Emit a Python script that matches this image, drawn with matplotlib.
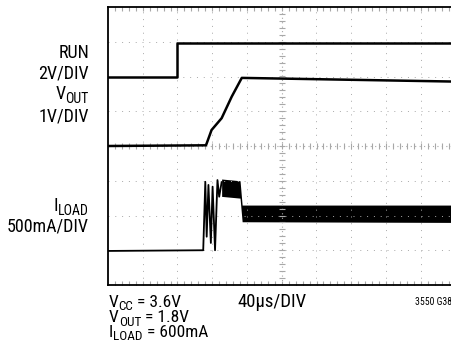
import matplotlib
matplotlib.use("Agg")
import matplotlib.pyplot as plt
import numpy as np

# ---- data (in scope divisions: x 0..10, y 0..8) ----
run_t = [0.0, 2.0, 2.0, 10.2]
run_v = [6.0, 6.0, 6.95, 6.95]

vout_t = [0.0, 2.82, 2.98, 3.27, 3.56, 3.85, 10.2]
vout_v = [4.0, 4.02, 4.46, 4.80, 5.42, 5.96, 5.85]

iload_t = [0.0, 2.74, 2.80, 2.84, 2.89, 2.96, 3.01, 3.08, 3.15, 3.20, 3.27]
iload_v = [0.98, 1.0, 2.97, 1.39, 2.88, 1.21, 2.83, 1.0, 3.02, 2.54, 2.96]

band_t = [3.27, 3.80, 3.86, 10.2]
band_hi = [3.05, 3.00, 2.30, 2.30]
band_lo = [2.55, 2.50, 1.82, 1.80]

W, H = 452, 362
FONT = ['Roboto Condensed', 'DejaVu Sans']
plt.rcParams['font.family'] = FONT

fig = plt.figure(figsize=(W / 100, H / 100), dpi=100)
div = 34.75
left, top = 108, 7
ax = fig.add_axes([left / W, 1 - (top + 8 * div) / H, 10 * div / W, 8 * div / H])
ax.set_xlim(0, 10)
ax.set_ylim(0, 8)
ax.set_xticks([])
ax.set_yticks([])
for s in ['left', 'top', 'bottom']:
    ax.spines[s].set_linewidth(1.3)
ax.spines['right'].set_visible(False)

gc = '#a8a8a8'
for xi in range(1, 10):
    if xi != 5:
        ax.plot([xi, xi], [0, 8], color=gc, lw=0.7, ls=(0, (1, 6)))
for yi in range(1, 8):
    if yi != 4:
        ax.plot([0, 10], [yi, yi], color=gc, lw=0.7, ls=(0, (1, 6)))
ax.plot([5, 5], [0, 8], color=gc, lw=0.8, ls=(0, (1, 3)))
ax.plot([0, 10], [4, 4], color=gc, lw=0.8, ls=(0, (1, 3)))
minor = np.arange(0.2, 10, 0.2)
ax.plot(minor, np.full_like(minor, 4), ls='none', marker='|', ms=4, color=gc, mew=0.8)
ax.plot(minor, np.full_like(minor, 0.03), ls='none', marker='|', ms=4, color=gc, mew=0.8)
ax.plot(minor, np.full_like(minor, 7.97), ls='none', marker='|', ms=4, color=gc, mew=0.8)
vminor = np.arange(0.2, 8, 0.2)
ax.plot(np.full_like(vminor, 5), vminor, ls='none', marker='_', ms=4, color=gc, mew=0.8)

# traces
ax.plot(run_t, run_v, color='black', lw=1.8)
ax.plot(vout_t, vout_v, color='black', lw=1.8)
ax.plot(iload_t, iload_v, color='black', lw=1.3)
ax.fill_between(band_t, band_lo, band_hi, color='black', lw=0)

renderer = fig.canvas.get_renderer()


def rich(x, y, parts, ha='left', fs=13, sub_fs=10, sub_drop=4.0):
    """parts: list of (text, is_subscript). x, y in pixels from top-left (baseline)."""
    widths = []
    for s, sub in parts:
        tmp = fig.text(0, 0, s, fontsize=sub_fs if sub else fs, family=FONT)
        widths.append(tmp.get_window_extent(renderer).width)
        tmp.remove()
    total = sum(widths)
    cx = x - total if ha == 'right' else x
    for (s, sub), w in zip(parts, widths):
        yy = y + (sub_drop if sub else 0)
        fig.text(cx / W, 1 - yy / H, s, fontsize=sub_fs if sub else fs,
                 family=FONT, va='baseline', ha='left')
        cx += w


rich(89, 58, [('RUN', False)], ha='right')
rich(89, 78, [('2V/DIV', False)], ha='right')
rich(89, 99, [('V', False), ('OUT', True)], ha='right')
rich(89, 121.5, [('1V/DIV', False)], ha='right')
rich(89, 211, [('I', False), ('LOAD', True)], ha='right')
rich(89, 231.5, [('500mA/DIV', False)], ha='right')

bfs, bsub = 12.5, 9.5
rich(109, 307, [('V', False), ('CC', True), (' = 3.6V', False)], fs=bfs, sub_fs=bsub, sub_drop=3.5)
rich(109, 322, [('V', False), ('OUT', True), (' = 1.8V', False)], fs=bfs, sub_fs=bsub, sub_drop=3.5)
rich(109, 337, [('I', False), ('LOAD', True), (' = 600mA', False)], fs=bfs, sub_fs=bsub, sub_drop=3.5)
rich(237, 307, [('40µs/DIV', False)], fs=13.5)
fig.text(415 / W, 1 - 305 / H, '3550 G38', fontsize=7, family=FONT, va='baseline')

fig.savefig('out.png', dpi=100)
